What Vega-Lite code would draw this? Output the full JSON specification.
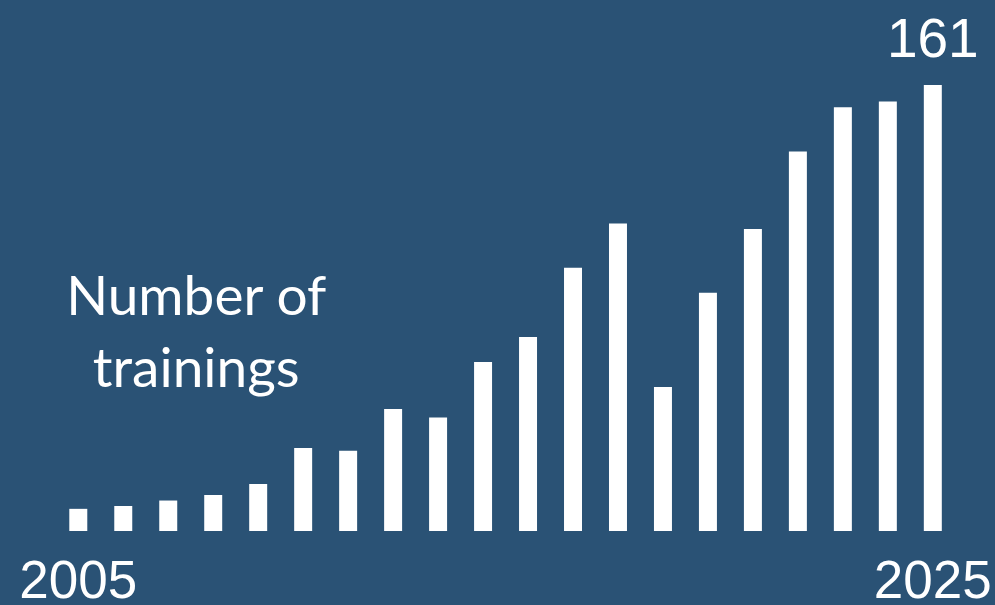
{
  "$schema": "https://vega.github.io/schema/vega-lite/v6.json",
  "width": 995,
  "height": 605,
  "autosize": {"type": "none"},
  "padding": 0,
  "background": "#2a5275",
  "config": {"view": {"stroke": null}, "font": "Liberation Sans"},
  "data": {
    "values": [
      {"year": 2006, "trainings": 8, "label": "2005"},
      {"year": 2007, "trainings": 9, "label": ""},
      {"year": 2008, "trainings": 11, "label": ""},
      {"year": 2009, "trainings": 13, "label": ""},
      {"year": 2010, "trainings": 17, "label": ""},
      {"year": 2011, "trainings": 30, "label": ""},
      {"year": 2012, "trainings": 29, "label": ""},
      {"year": 2013, "trainings": 44, "label": ""},
      {"year": 2014, "trainings": 41, "label": ""},
      {"year": 2015, "trainings": 61, "label": ""},
      {"year": 2016, "trainings": 70, "label": ""},
      {"year": 2017, "trainings": 95, "label": ""},
      {"year": 2018, "trainings": 111, "label": ""},
      {"year": 2019, "trainings": 52, "label": ""},
      {"year": 2020, "trainings": 86, "label": ""},
      {"year": 2021, "trainings": 109, "label": ""},
      {"year": 2022, "trainings": 137, "label": ""},
      {"year": 2023, "trainings": 153, "label": ""},
      {"year": 2024, "trainings": 155, "label": ""},
      {"year": 2025, "trainings": 161, "label": "2025"}
    ]
  },
  "encoding": {
    "x": {
      "field": "year",
      "type": "ordinal",
      "axis": null,
      "scale": {"range": [55.8, 955.3], "paddingInner": 0.6, "paddingOuter": 0.3}
    }
  },
  "layer": [
    {
      "mark": {"type": "bar", "color": "#ffffff"},
      "encoding": {
        "y": {
          "field": "trainings",
          "type": "quantitative",
          "axis": null,
          "scale": {"domain": [0, 161], "range": [531, 85], "nice": false, "zero": true}
        }
      }
    },
    {
      "mark": {"type": "text", "color": "#ffffff", "fontSize": 53, "baseline": "alphabetic", "align": "center", "dy": 67},
      "encoding": {
        "y": {"datum": 0, "type": "quantitative"},
        "text": {"field": "label"}
      }
    },
    {
      "transform": [{"filter": "datum.year == 2025"}],
      "mark": {"type": "text", "color": "#ffffff", "fontSize": 55, "baseline": "alphabetic", "align": "center", "dy": -28},
      "encoding": {
        "y": {"field": "trainings", "type": "quantitative"},
        "text": {"field": "trainings"}
      }
    },
    {
      "transform": [{"filter": "datum.year == 2009"}],
      "mark": {"type": "text", "color": "#ffffff", "font": "Lato", "fontSize": 55, "baseline": "alphabetic", "align": "center", "dx": -17, "lineHeight": 72, "text": ["Number of", "trainings"]},
      "encoding": {
        "y": {"datum": 78, "type": "quantitative"}
      }
    }
  ]
}
